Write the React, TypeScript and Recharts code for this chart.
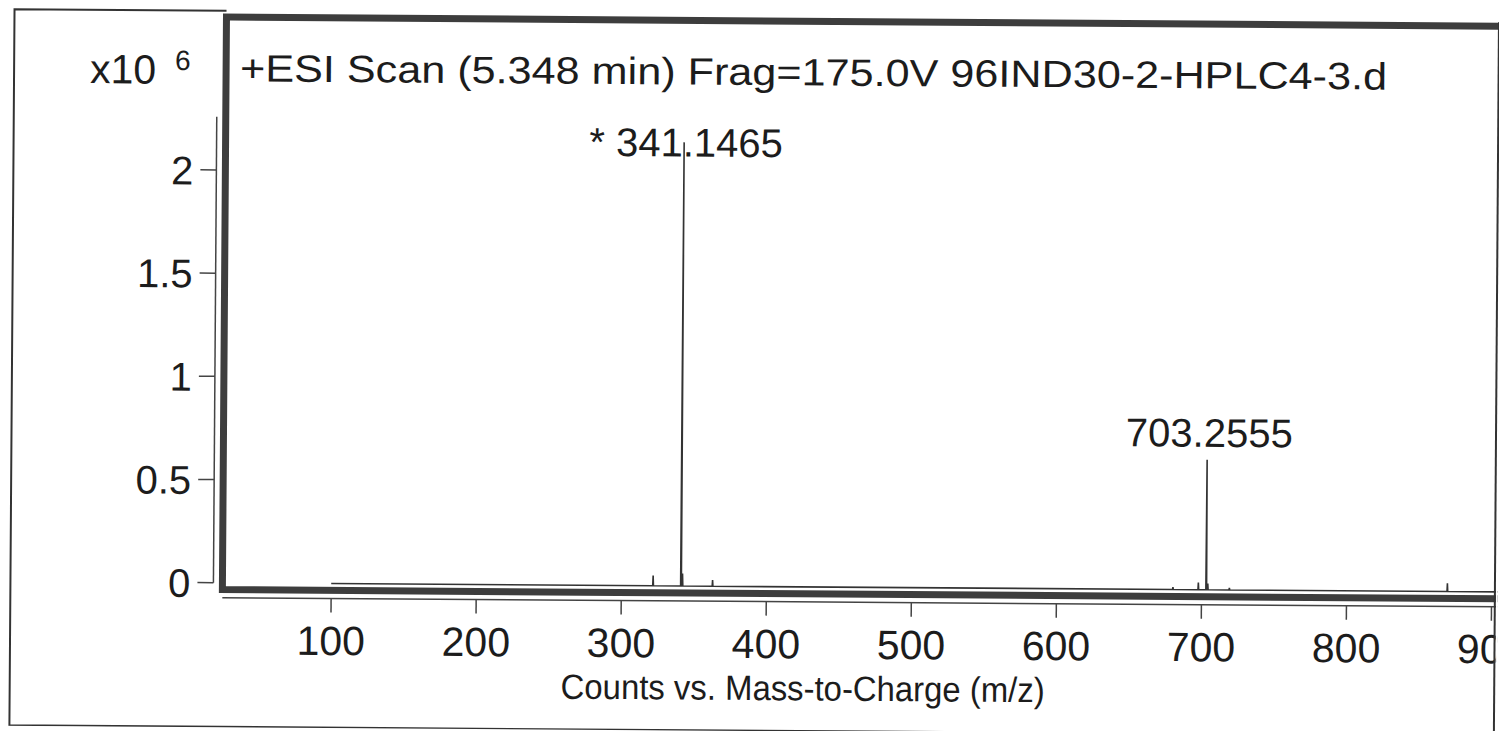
import React from 'react';
import { LineChart, Line, XAxis, YAxis, LabelList } from 'recharts';

const FONT = '"Liberation Sans", Arial, Helvetica, sans-serif';
const INK = '#1c1c1c';
const FRAME = '#3d3d3d';

// header / axis texts
const scanTitle = '+ESI Scan (5.348 min) Frag=175.0V 96IND30-2-HPLC4-3.d';
const yScaleBase = 'x10';
const yScaleExp = '6';
const xAxisTitle = 'Counts vs. Mass-to-Charge (m/z)';

// axis ticks
const xTicks = [100, 200, 300, 400, 500, 600, 700, 800, 900];
const yTicks = [0, 0.5, 1, 1.5, 2];

// acquisition range (m/z)
const scanStart = 100;
const scanEnd = 1000;

// peaks, counts in x10^6
const peakMz = [321.9, 341.1465, 342.15, 362.9, 680.3, 697.8, 703.2555, 704.3, 719.2, 869.5];
const peakCounts = [0.05, 2.15, 0.06, 0.03, 0.012, 0.035, 0.63, 0.03, 0.01, 0.04];
const peakLabels = ['', '* 341.1465', '', '', '', '', '703.2555', '', '', ''];

// stick spectrum for the line series
const STICK = 0.25;
const spectrum: { mz: number; counts: number; label?: string }[] = [{ mz: scanStart, counts: 0 }];
peakMz.forEach((mz, i) => {
  spectrum.push({ mz: mz - STICK, counts: 0 });
  spectrum.push({ mz, counts: peakCounts[i], label: peakLabels[i] || undefined });
  spectrum.push({ mz: mz + STICK, counts: 0 });
});
spectrum.push({ mz: scanEnd, counts: 0 });

const renderXTick = ({ x, y, payload }: any) => (
  <text x={x} y={y} dy={42.5} textAnchor="middle" fontSize={41} fill={INK} fontFamily={FONT}>
    {payload.value}
  </text>
);

const renderYTick = ({ x, y, payload }: any) => (
  <g>
    <line x1={x - 25} x2={x - 9} y1={y} y2={y} stroke="#444" strokeWidth={1.5} />
    {payload.value === 0 && (
      <line x1={x - 9} x2={x - 9} y1={y} y2={y - 466} stroke="#444" strokeWidth={1.5} />
    )}
    <text x={x - 32} y={y} dy={14.5} textAnchor="end" fontSize={40} fill={INK} fontFamily={FONT}>
      {payload.value}
    </text>
  </g>
);

const renderPeakLabel = ({ x, y, value }: any) => {
  if (!value) return null;
  return (
    <text x={x + 2} y={Math.max(y - 13, 157)} textAnchor="middle" fontSize={40} fill={INK} fontFamily={FONT}>
      {value}
    </text>
  );
};

export default function App() {
  return (
    <div style={{ position: 'absolute', left: 0, top: 0, width: 1499, height: 731, background: '#fff', overflow: 'hidden' }}>
      {/* scanned page is slightly tilted */}
      <div style={{ position: 'absolute', left: 0, top: 0, width: 1499, height: 731, transform: 'rotate(0.41deg)', transformOrigin: '750px 365px' }}>
        <LineChart width={1499} height={731} data={spectrum} margin={{ top: 21, right: 0, bottom: 49.5, left: 0 }}>
          <XAxis
            type="number"
            dataKey="mz"
            domain={[25, 904]}
            ticks={xTicks}
            interval={0}
            allowDataOverflow
            height={80}
            axisLine={{ stroke: '#444', strokeWidth: 1.5 }}
            tickLine={{ stroke: '#444', strokeWidth: 1.5 }}
            tickSize={14}
            tickMargin={0}
            tick={renderXTick}
          />
          <YAxis
            type="number"
            domain={[-0.0727, 2.7405]}
            ticks={yTicks}
            interval={0}
            allowDataOverflow
            width={224}
            axisLine={false}
            tickLine={false}
            tickSize={0}
            tickMargin={0}
            tick={renderYTick}
          />
          <Line
            type="linear"
            dataKey="counts"
            stroke="#333"
            strokeWidth={1.6}
            dot={false}
            activeDot={false}
            isAnimationActive={false}
          >
            <LabelList dataKey="label" content={renderPeakLabel} />
          </Line>
        </LineChart>
        <svg width={1499} height={731} style={{ position: 'absolute', left: 0, top: 0, pointerEvents: 'none' }}>
          <path d="M 224 14.6 L 12 14.6 L 12 730.6 L 1496.5 730.6" fill="none" stroke="#333" strokeWidth={2} />
          <rect x={224} y={20.8} width={1400} height={572.6} fill="none" stroke={FRAME} strokeWidth={7} />
          <rect x={1497.5} y={0} width={60} height={760} fill="#fff" />
          <line x1={1496.5} x2={1496.5} y1={17} y2={760} stroke="#333" strokeWidth={2} />
          <text x={238} y={85} fontSize={38} fill={INK} fontFamily={FONT} textLength={1147} lengthAdjust="spacingAndGlyphs">
            {scanTitle}
          </text>
          <text x={88} y={87.8} fontSize={41} fill={INK} fontFamily={FONT}>{yScaleBase}</text>
          <text x={173} y={74} fontSize={28} fill={INK} fontFamily={FONT}>{yScaleExp}</text>
          <text x={805} y={700} textAnchor="middle" fontSize={35} fill={INK} fontFamily={FONT} textLength={484} lengthAdjust="spacingAndGlyphs">
            {xAxisTitle}
          </text>
        </svg>
      </div>
    </div>
  );
}
